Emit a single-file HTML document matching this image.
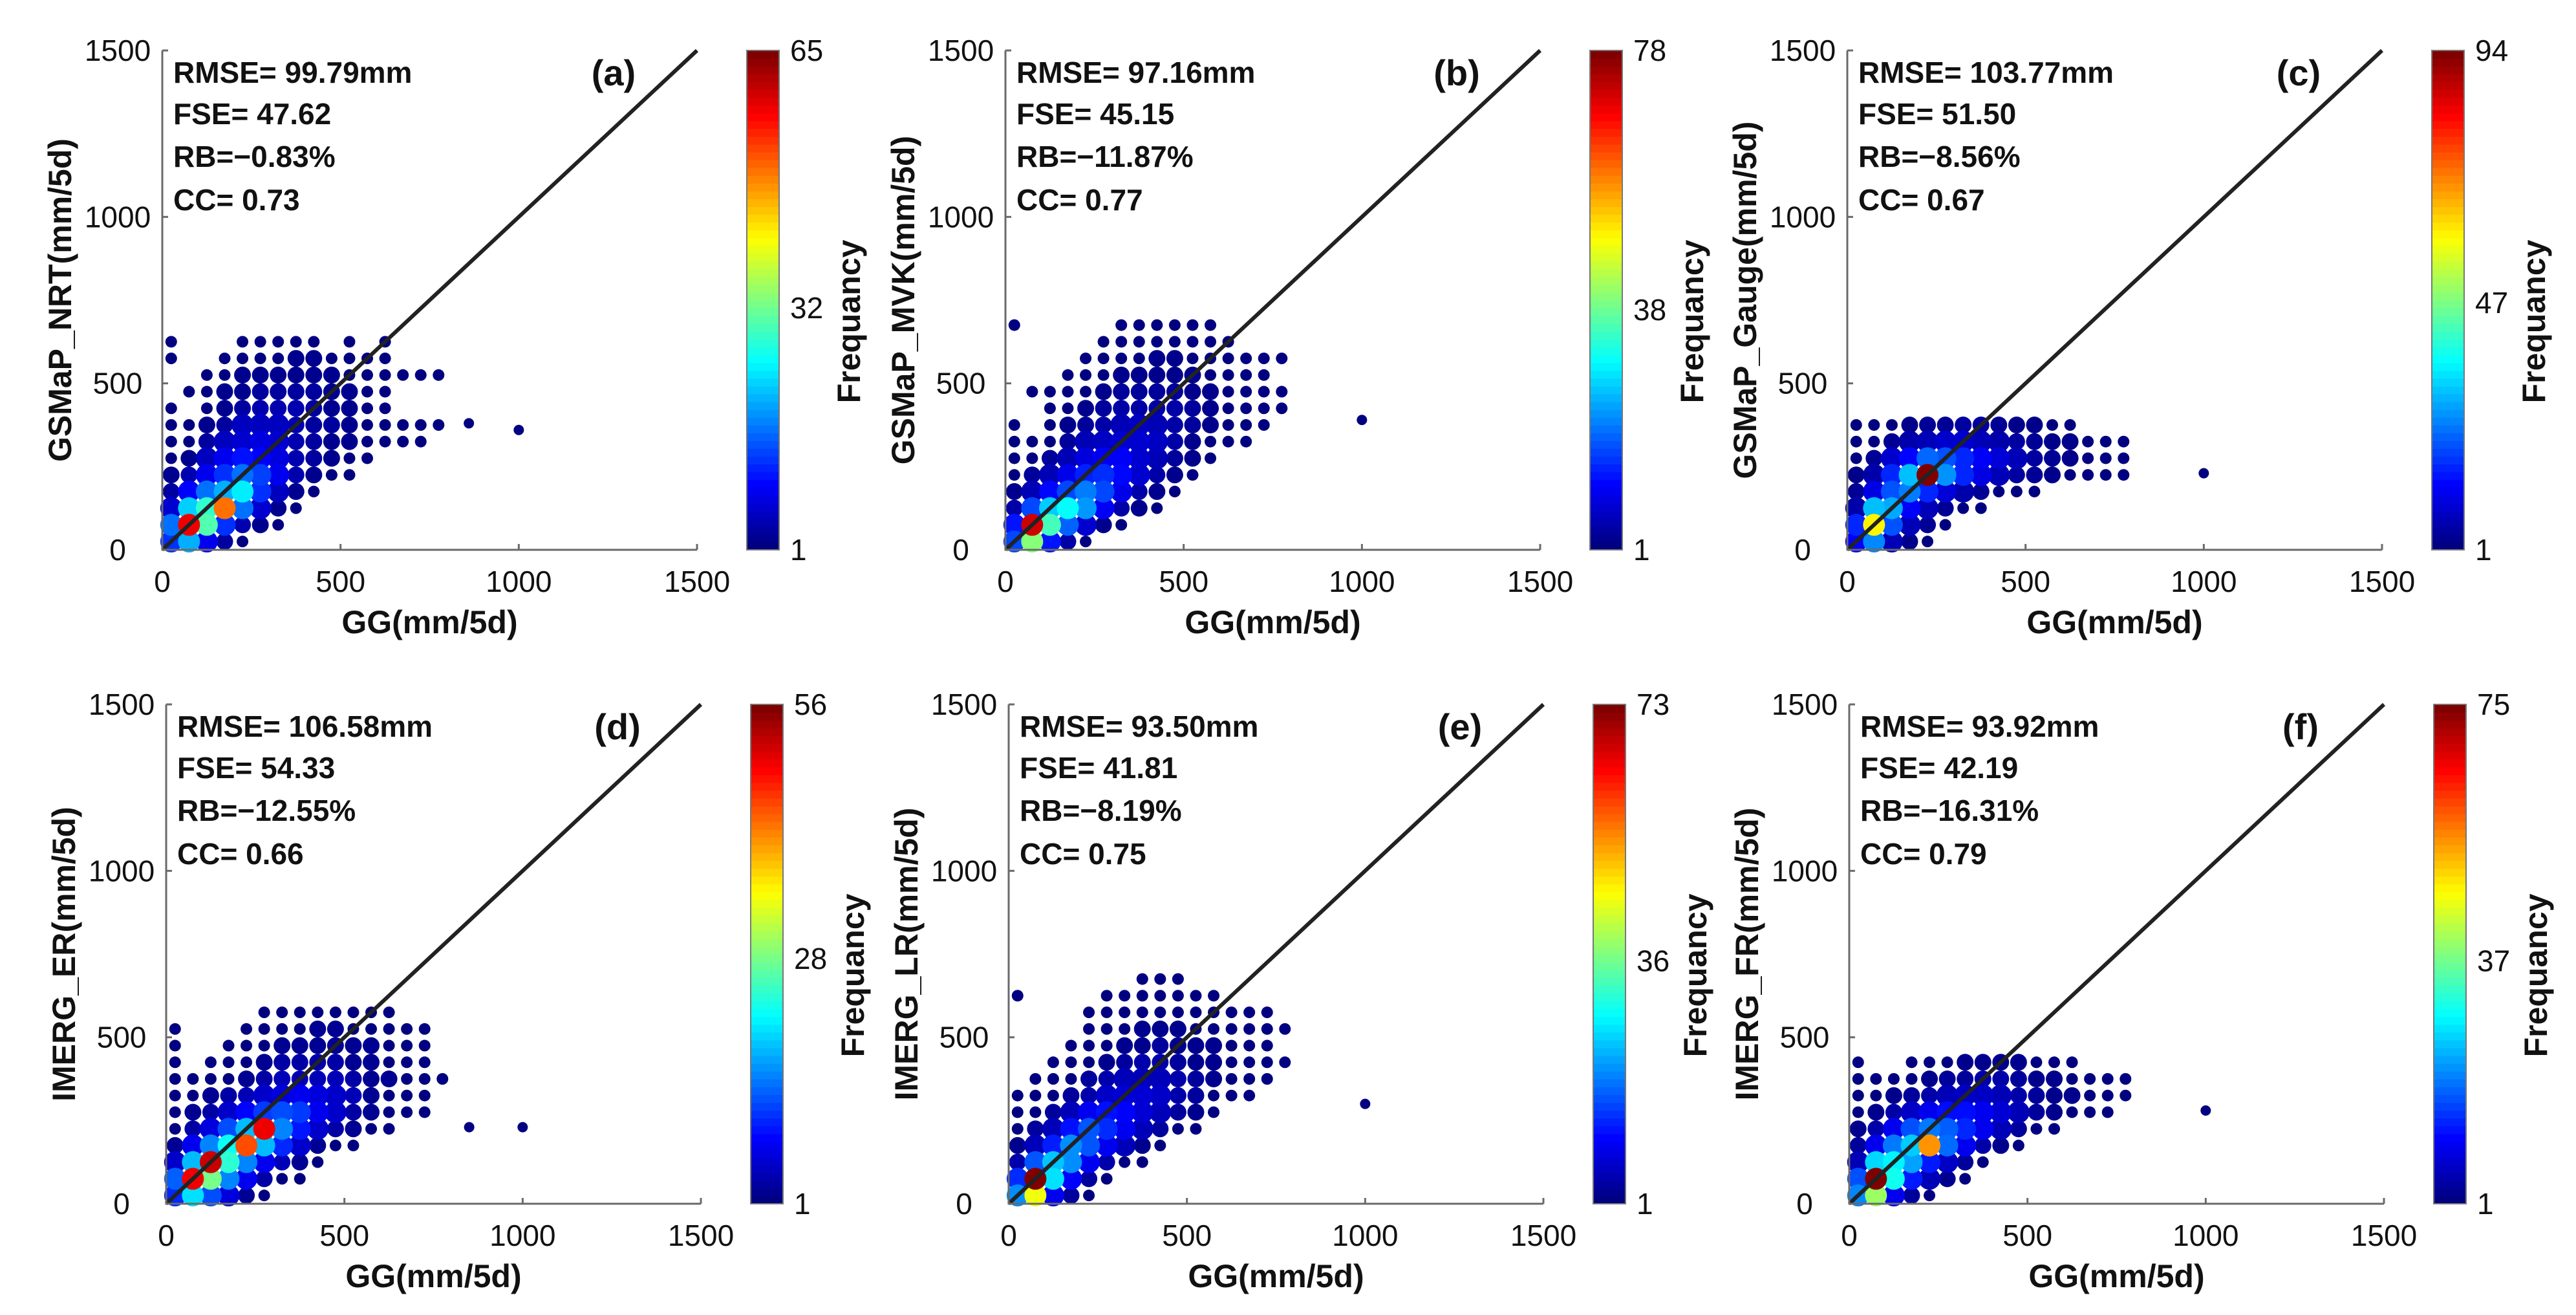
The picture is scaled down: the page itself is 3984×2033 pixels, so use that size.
<!DOCTYPE html>
<html><head><meta charset="utf-8"><style>
html,body{margin:0;padding:0;background:#fff;}
svg{display:block;}
text{font-family:"Liberation Sans",Arial,sans-serif;fill:#111;}
</style></head>
<body>
<svg id="fig" width="3984" height="2033" viewBox="0 0 3984 2033" xmlns="http://www.w3.org/2000/svg"></svg>
<script>
// ---- data ----
const panelIds = ['a','b','c','d','e','f'];
const yLabels = ['GSMaP_NRT(mm/5d)','GSMaP_MVK(mm/5d)','GSMaP_Gauge(mm/5d)','IMERG_ER(mm/5d)','IMERG_LR(mm/5d)','IMERG_FR(mm/5d)'];
const rmseVals = ['99.79','97.16','103.77','106.58','93.50','93.92'];
const fseVals = ['47.62','45.15','51.50','54.33','41.81','42.19'];
const rbVals = ['\u22120.83','\u221211.87','\u22128.56','\u221212.55','\u22128.19','\u221216.31'];
const ccVals = ['0.73','0.77','0.67','0.66','0.75','0.79'];
const cbarMax = [65,78,94,56,73,75];
const cbarMid = [32,38,47,28,36,37];
const axisTicks = [0,500,1000,1500];
const binSize = 50;
// density matrices: rows = y bins (0-50, 50-100, ...), cols = x bins (0-50, 50-100, ...)
const densA = [
 [12,20,8,3,1],
 [16,58,30,12,4,2,1],
 [6,22,28,50,16,6,2,1],
 [3,9,16,20,24,12,5,2,1],
 [2,4,8,12,16,13,8,4,2,1,1],
 [1,2,5,8,10,9,7,4,3,2,1,1],
 [1,1,3,5,6,7,6,4,3,2,2,1,1,1,1],
 [1,1,2,3,5,5,5,4,3,3,2,1,1,1,1,1],
 [1,0,1,2,3,4,4,4,3,2,2,1,1],
 [0,1,1,2,2,3,3,3,3,2,2,1,1],
 [0,0,1,1,2,2,2,2,2,2,1,1,1,1,1,1],
 [1,0,0,1,1,1,1,2,2,1,1,1,1],
 [1,0,0,0,1,1,1,1,1,0,1,0,1]
];
const densB = [
 [16,40,12,4,1],
 [12,72,35,18,7,2,1],
 [4,16,26,30,22,10,4,2,1],
 [2,5,11,16,20,16,9,4,2,1],
 [1,3,5,9,13,14,11,7,4,2,1],
 [1,1,3,5,8,10,10,7,5,3,2,1],
 [1,1,1,3,5,6,7,7,6,4,2,1,1,1],
 [1,0,1,2,3,4,5,6,5,4,3,2,1,1,1],
 [0,0,1,1,2,3,4,4,4,4,3,2,1,1,1,1],
 [0,1,1,1,1,2,3,3,3,3,2,2,1,1,1,1],
 [0,0,0,1,1,1,2,2,2,2,2,1,1,1,1],
 [0,0,0,0,1,1,1,1,2,2,1,1,1,1,1,1],
 [0,0,0,0,0,1,1,1,1,1,1,1,1],
 [1,0,0,0,0,0,1,1,1,1,1,1]
];
const densC = [
 [12,25,6,2,1],
 [16,60,20,6,3,1],
 [5,30,28,12,6,3,1,1],
 [3,10,20,24,16,9,5,3,1,1,1],
 [2,5,16,30,94,26,16,10,6,4,3,2,1,1,1,1],
 [1,3,8,13,22,20,16,12,9,6,4,3,2,1,1,1],
 [1,1,3,5,6,8,8,6,5,4,3,2,2,1,1,1],
 [1,1,1,2,3,3,4,4,3,2,2,1,1]
];
const densD = [
 [10,20,12,6,2,1],
 [13,50,28,15,7,3,1,1],
 [5,18,52,24,15,7,4,2,1],
 [2,7,15,22,45,18,10,5,2,1,1],
 [1,3,6,12,18,50,15,9,5,3,2,1,1],
 [1,2,3,5,8,11,12,11,7,5,3,2,1,1,1],
 [1,1,2,3,4,5,6,7,6,5,4,2,1,1,1],
 [1,1,1,1,2,3,4,4,4,4,3,2,2,1,1,1],
 [1,0,1,1,1,2,3,3,3,3,2,2,1,1,1],
 [1,0,0,1,1,1,2,2,2,2,2,2,1,1,1],
 [1,0,0,0,1,1,1,1,2,2,1,1,1,1,1],
 [0,0,0,0,0,1,1,1,1,1,1,1,1]
];
const densE = [
 [20,45,9,3,1],
 [13,73,26,10,3,1],
 [4,16,24,20,9,4,1,1],
 [2,5,12,20,16,9,5,2,1],
 [1,3,5,11,16,13,9,5,3,1,1],
 [1,1,3,5,9,11,10,7,5,3,2,1],
 [1,1,1,3,4,6,7,7,6,4,3,1,1,1],
 [0,1,1,1,3,4,5,5,5,4,3,2,1,1,1],
 [0,0,1,1,1,2,3,4,4,3,2,2,1,1,1,1],
 [0,0,0,1,1,1,2,2,3,2,2,2,1,1,1],
 [0,0,0,0,1,1,1,2,2,2,1,1,1,1,1,1],
 [0,0,0,0,1,1,1,1,1,1,1,1,1,1,1],
 [1,0,0,0,0,1,1,1,1,1,1,1],
 [0,0,0,0,0,0,0,1,1,1]
];
const densF = [
 [20,40,9,3,1],
 [16,75,30,12,5,2,1],
 [5,26,28,22,12,6,3,1],
 [3,9,19,25,55,18,9,4,2,1],
 [2,4,9,16,19,17,13,9,5,3,1,1],
 [1,2,4,6,9,11,11,9,7,5,3,2,1,1,1],
 [1,1,2,3,4,5,6,6,5,4,3,2,2,1,1,1],
 [1,1,1,1,2,3,3,4,4,3,2,2,1,1,1,1],
 [1,0,0,1,1,1,2,2,2,2,1,1,1]
];
const dens = [densA,densB,densC,densD,densE,densF];
const outX = [[1000,860],[1000],[1000],[1000,850],[1000],[1000]];
const outY = [[360,380],[390],[230],[230,230],[300],[280]];

// ---- layout ----
const NS='http://www.w3.org/2000/svg';
const svg=document.getElementById('fig');
const lefts=[251,1555,2857,257,1560,2860];
const tops=[78,78,78,1089,1089,1089];
const W=827,H=772;
function el(tag,attrs,parent){const e=document.createElementNS(NS,tag);for(const k in attrs)e.setAttribute(k,attrs[k]);(parent||svg).appendChild(e);return e;}
function jet(t){t=Math.max(0,Math.min(1,t));const c=v=>Math.round(255*Math.max(0,Math.min(1,v)));
 return 'rgb('+c(1.5-Math.abs(4*t-3))+','+c(1.5-Math.abs(4*t-2))+','+c(1.5-Math.abs(4*t-1))+')';}

panelIds.forEach((id,p)=>{
 const L=lefts[p],T=tops[p],B=T+H;
 const sx=v=>L+v/1500*W, sy=v=>B-v/1500*H;
 const g=el('g',{});
 
 
 const pts=[];
 dens[p].forEach((row,j)=>row.forEach((f,i)=>{if(f>0)pts.push([i,j,f]);}));
 pts.sort((a,b)=>a[2]-b[2]);
 const pg=el('g',{},g);
 
 
 pts.forEach(([i,j,f])=>{
  const r=f>=5?17:(f>=2?13:9);
  const c=el('circle',{cx:sx((i+0.5)*binSize),cy:sy((j+0.5)*binSize),r:r,fill:jet((f-1)/(cbarMax[p]-1))},pg);
  
  
 });
 outX[p].forEach((x,k)=>{
  const c=el('circle',{cx:sx(x),cy:sy(outY[p][k]),r:8,fill:jet(0)},pg);
  
  
 });
 const ln=el('line',{x1:sx(0),y1:sy(0),x2:sx(1500),y2:sy(1500),stroke:'#222','stroke-width':6},g);
 
 
 const ax=el('path',{d:`M${L},${T}V${B}H${L+W}`,fill:'none',stroke:'#6a6a6a','stroke-width':3},g);
 
 
 axisTicks.forEach(v=>{
  el('line',{x1:sx(v),y1:B,x2:sx(v),y2:B-9,stroke:'#6a6a6a','stroke-width':3},g);
  el('line',{x1:L,y1:sy(v),x2:L+9,y2:sy(v),stroke:'#6a6a6a','stroke-width':3},g);
  const xt=el('text',{x:sx(v),y:B+65,'font-size':46,'text-anchor':'middle'},g);
  xt.textContent=v;
  
  
  const yt=el('text',{x:L-69,y:sy(v)+16,'font-size':46,'text-anchor':'middle'},g);
  yt.textContent=v;
  
  
 });
 const xl=el('text',{x:L+W/2,y:B+129,'font-size':50,'font-weight':'bold','text-anchor':'middle'},g);
 xl.textContent='GG(mm/5d)';
 
 
 const yl=el('text',{x:0,y:0,'font-size':50,'font-weight':'bold','text-anchor':'middle',transform:`translate(${L-141},${(T+B)/2}) rotate(-90)`},g);
 yl.textContent=yLabels[p];
 
 
 const stats=['RMSE= '+rmseVals[p]+'mm','FSE= '+fseVals[p],'RB='+rbVals[p]+'%','CC= '+ccVals[p]];
 const offs=[50,114,180,247];
 stats.forEach((s,k)=>{
  const t=el('text',{x:L+17,y:T+offs[k],'font-size':46,'font-weight':'bold'},g);
  t.textContent=s;
  
  
 });
 const pl=el('text',{x:L+698,y:T+54,'font-size':56,'font-weight':'bold','text-anchor':'middle'},g);
 pl.textContent='('+id+')';
 
 
 const cx=L+904,cw=50,n=64;
 const cb=el('g',{},g);
 
 
 for(let k=0;k<n;k++){
  el('rect',{x:cx,y:B-(k+1)*H/n,width:cw,height:H/n+0.8,fill:jet(k/(n-1))},cb);
 }
 el('rect',{x:cx,y:T,width:cw,height:H,fill:'none',stroke:'#777','stroke-width':2},cb);
 [1,cbarMid[p],cbarMax[p]].forEach(v=>{
  const y=B-(v-1)/(cbarMax[p]-1)*H;
  const t=el('text',{x:cx+cw+17,y:y+16,'font-size':46},cb);
  t.textContent=v;
  
  
 });
 const ft=el('text',{x:0,y:0,'font-size':50,'font-weight':'bold','text-anchor':'middle',transform:`translate(${cx+175},${(T+B)/2+33}) rotate(-90)`},cb);
 ft.textContent='Frequancy';
 
 
});
</script>
</body></html>
